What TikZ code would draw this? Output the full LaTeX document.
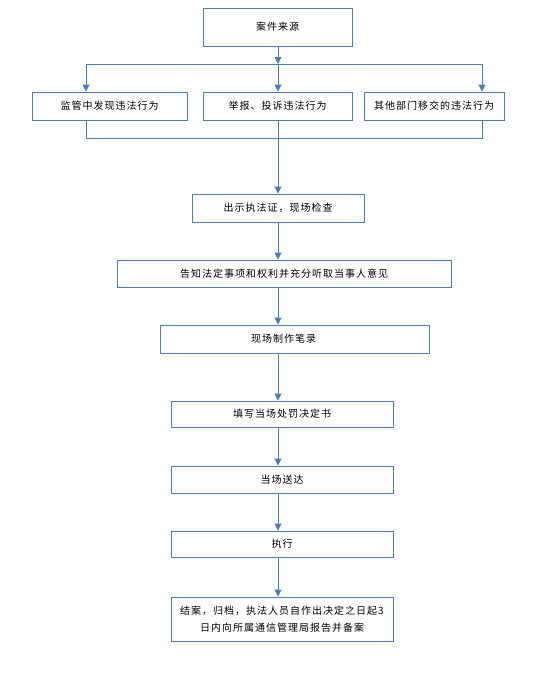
\documentclass[tikz,border=0pt]{standalone}
\usepackage{fontspec}
\newfontfamily\cjk{Noto Sans CJK SC}[LetterSpace=10]
\usepackage{xcolor}
\usepackage{tikz}
\usetikzlibrary{arrows.meta,positioning}

\definecolor{lineblue}{HTML}{4A7EBB}
\tikzset{
	box/.style={draw=lineblue, line width=0.9pt, minimum height=28pt, inner sep=0pt, align=center, font=\cjk\fontsize{10pt}{17pt}\selectfont},
	flow/.style={draw=lineblue, line width=0.9pt, -{Triangle[length=7pt,width=7pt]}},
	link/.style={draw=lineblue, line width=0.9pt}
}

\begin{document}
\begin{tikzpicture}[x=1pt, y=-1pt]
		\fill[white] (0,0) rectangle (549,691);
		\useasboundingbox (0,0) rectangle (549,691);

		\node[box, minimum width=149pt, minimum height=38pt] (src) at (277.5,27) {案件来源};
		\node[box, minimum width=155pt] (viol1) at (109.5,106) {监管中发现违法行为};
		\node[box, minimum width=149pt] (viol2) at (277.5,106) {举报、投诉违法行为};
		\node[box, minimum width=140pt] (viol3) at (434,106) {其他部门移交的违法行为};
		\node[box, minimum width=172pt] (check) at (278,208) {出示执法证，现场检查};
		\node[box, minimum width=334pt, minimum height=27pt] (inform) at (284,273.5) {告知法定事项和权利并充分听取当事人意见};
		\node[box, minimum width=269pt] (record) at (294.5,339) {现场制作笔录\hspace*{22pt}};
		\node[box, minimum width=222pt, minimum height=26pt] (decide) at (282,414) {填写当场处罚决定书};
		\node[box, minimum width=222pt, minimum height=27pt] (deliver) at (282,479.5) {当场送达};
		\node[box, minimum width=222pt, minimum height=26pt] (execute) at (282,544) {执行};
		\node[box, minimum width=222pt, minimum height=44pt] (close) at (282,619) {结案，归档，执法人员自作出决定之日起3\\日内向所属通信管理局报告并备案};

		\coordinate (fork) at (278,64);
		\coordinate (forkL) at (86,64);
		\coordinate (forkR) at (482,64);
		\coordinate (joinL) at (86,138);
		\coordinate (joinR) at (482,138);
		\coordinate (axis) at (278,0);

		\draw[flow] (src.south -| axis) -- (fork);
		\draw[link] (forkL) -- (forkR);
		\draw[flow] (forkL) -- (forkL |- viol1.north);
		\draw[flow] (fork) -- (viol2.north -| axis);
		\draw[flow] (forkR) -- (forkR |- viol3.north);

		\draw[link] (viol1.south -| joinL) -- (joinL) -- (joinR) -- (viol3.south -| joinR);
		\draw[flow] (viol2.south -| axis) -- (check.north -| axis);
		\draw[flow] (check.south -| axis) -- (inform.north -| axis);
		\draw[flow] (inform.south -| axis) -- (record.north -| axis);
		\draw[flow] (record.south -| axis) -- (decide.north -| axis);
		\draw[flow] (decide.south -| axis) -- (deliver.north -| axis);
		\draw[flow] (deliver.south -| axis) -- (execute.north -| axis);
		\draw[flow] (execute.south -| axis) -- (close.north -| axis);
	\end{tikzpicture}
\end{document}
